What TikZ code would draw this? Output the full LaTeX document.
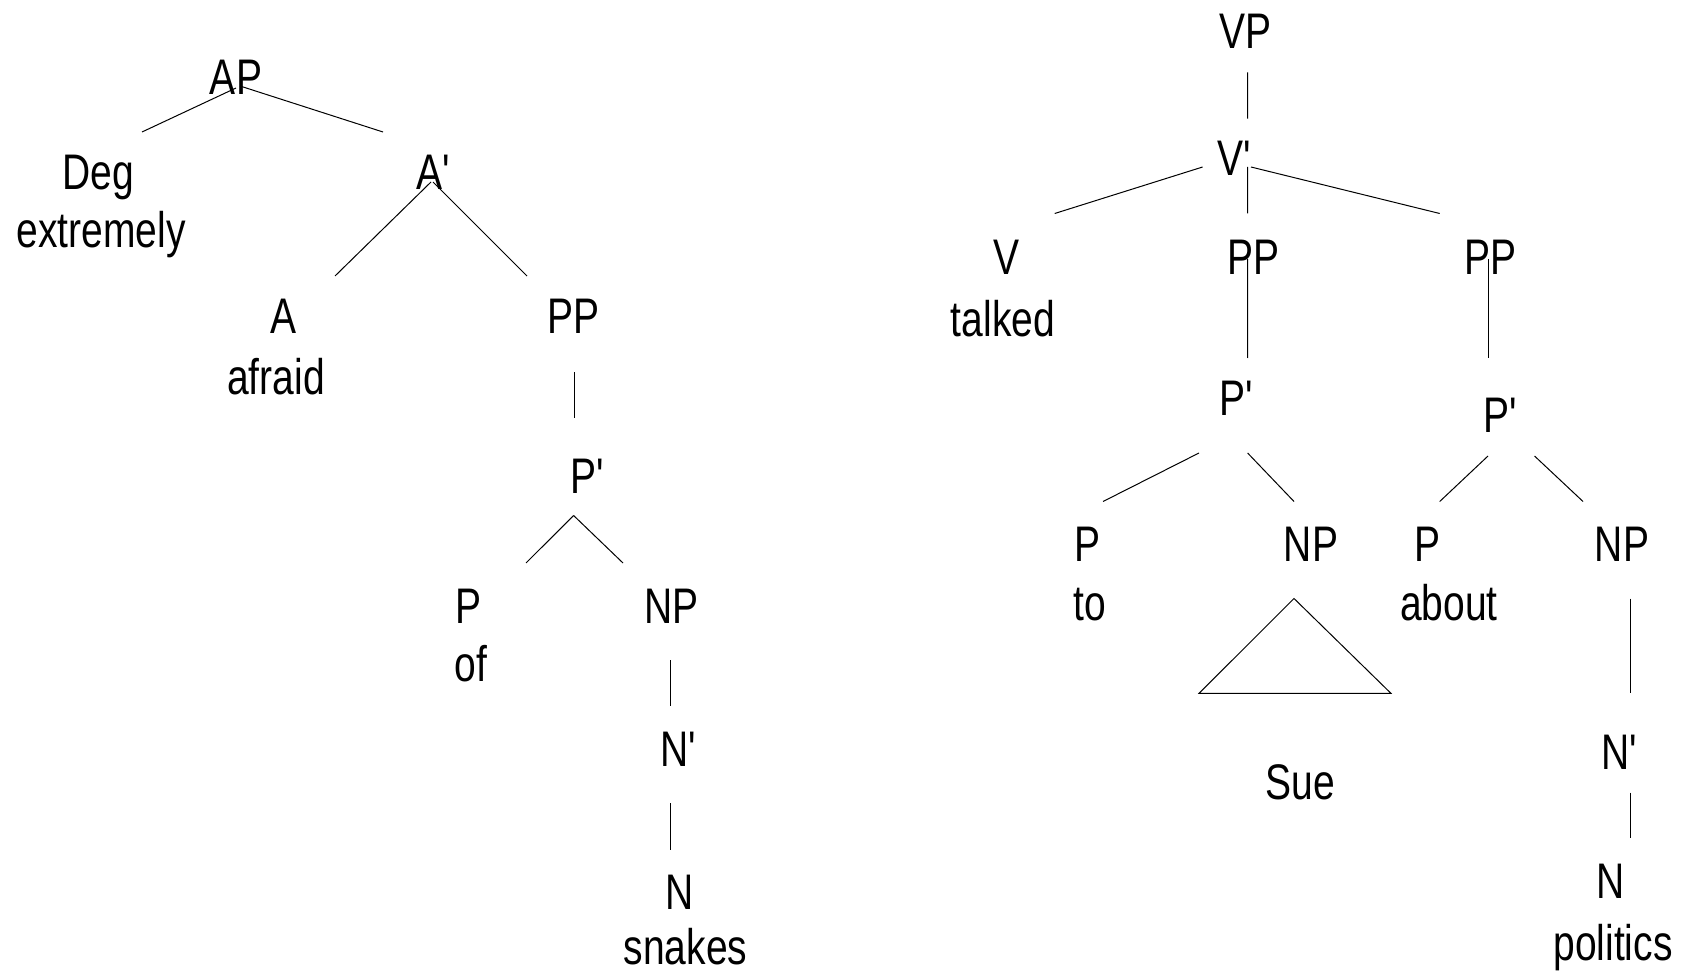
\documentclass[tikz,border=0pt]{standalone}
\usepackage{fontspec}
\setmainfont{Liberation Sans}[FakeStretch=0.78,Ligatures=TeXOff]
\usetikzlibrary{calc}
\begin{document}
\begin{tikzpicture}[x=1pt,y=-1pt,
  lbl/.style={anchor=base,inner sep=0pt,font=\fontsize{50}{60}\selectfont},
  edge/.style={line width=1pt}]
\useasboundingbox (0,0) rectangle (1691,973);
% ---------- left tree ----------
\node[lbl] (AP)  at (236,95) {AP};
\node[lbl] (Deg) at (98,190) {Deg};
\node[lbl] (ext) at (101,248) {extremely};
\node[lbl] (Ab)  at (433,190) {A'};
\node[lbl] (A)   at (283.5,334) {A};
\node[lbl] (afr) at (276,394) {afraid};
\node[lbl] (PPa) at (573.6,334) {PP};
\node[lbl] (Pba) at (587,493) {P'};
\node[lbl] (Pa)  at (468,623) {P};
\node[lbl] (of)  at (471,681.5) {of};
\node[lbl] (NPa) at (671.8,623) {NP};
\node[lbl] (Nba) at (678.5,766) {N'};
\node[lbl] (Na)  at (680,909) {N};
\node[lbl] (snk) at (685.5,964) {snakes};
\draw[edge] ($(AP.base)+(0,-7)$) -- ($(Deg.base)+(44,-58)$);
\draw[edge] ($(AP.base)+(4,-9)$) -- ($(Ab.base)+(-50,-58)$);
\draw[edge] ($(Ab.base)+(-2,-8)$) -- ($(A.base)+(51.5,-58)$);
\draw[edge] ($(Ab.base)+(0,-8)$) -- ($(PPa.base)+(-46.6,-58)$);
\draw[edge] ($(PPa.base)+(0.4,38)$) -- ($(Pba.base)+(-13,-75)$);
\draw[edge] ($(Pba.base)+(-13.4,22.5)$) -- ($(Pa.base)+(58,-60)$);
\draw[edge] ($(Pba.base)+(-13.4,22.5)$) -- ($(NPa.base)+(-48.8,-60)$);
\draw[edge] ($(NPa.base)+(-1,37)$) -- ($(Nba.base)+(-7.7,-60)$);
\draw[edge] ($(Nba.base)+(-7.7,37.4)$) -- ($(Na.base)+(-9.2,-59)$);
% ---------- right tree ----------
\node[lbl] (VP)  at (1245,48.5) {VP};
\node[lbl] (Vb)  at (1234,176) {V'};
\node[lbl] (V)   at (1006,275) {V};
\node[lbl] (tlk) at (1003,336.5) {talked};
\node[lbl] (PPb) at (1253,275) {PP};
\node[lbl] (PPc) at (1490,275) {PP};
\node[lbl] (Pbb) at (1236,415) {P'};
\node[lbl] (Pbc) at (1500.5,432) {P'};
\node[lbl] (Pto) at (1087,561) {P};
\node[lbl] (to)  at (1090,620) {to};
\node[lbl] (NPs) at (1311,561) {NP};
\node[lbl] (Sue) at (1300.5,799) {Sue};
\node[lbl] (Pab) at (1427.7,561) {P};
\node[lbl] (abt) at (1449,620) {about};
\node[lbl] (NPp) at (1622,561) {NP};
\node[lbl] (Nbp) at (1619,769) {N'};
\node[lbl] (Np)  at (1611,898) {N};
\node[lbl] (pol) at (1613,960) {politics};
\draw[edge] ($(VP.base)+(2.7,24)$) -- ($(Vb.base)+(13.6,-57.4)$);
\draw[edge] ($(Vb.base)+(-31.4,-9)$) -- ($(V.base)+(48.7,-61.5)$);
\draw[edge] ($(Vb.base)+(13.6,-9)$) -- ($(PPb.base)+(-5.3,-61.5)$);
\draw[edge] ($(Vb.base)+(17,-9)$) -- ($(PPc.base)+(-50.3,-61.5)$);
\draw[edge] ($(PPb.base)+(-5.3,-16)$) -- ($(Pbb.base)+(11.6,-57)$);
\draw[edge] ($(PPc.base)+(-2,-16)$) -- ($(Pbc.base)+(-12.5,-74)$);
\draw[edge] ($(Pbb.base)+(-37,38)$) -- ($(Pto.base)+(16,-59.5)$);
\draw[edge] ($(Pbb.base)+(11.6,38)$) -- ($(NPs.base)+(-17,-59.5)$);
\draw[edge] ($(Pbc.base)+(-12.5,24)$) -- ($(Pab.base)+(12,-59.5)$);
\draw[edge] ($(Pbc.base)+(34,24)$) -- ($(NPp.base)+(-39,-59.5)$);
\draw[edge] ($(NPs.base)+(-17,37.5)$) -- ($(NPs.base)+(-112,132.4)$) -- ($(NPs.base)+(80,132.4)$) -- cycle;
\draw[edge] ($(NPp.base)+(8.5,37.5)$) -- ($(Nbp.base)+(11.5,-75.6)$);
\draw[edge] ($(Nbp.base)+(11.5,23.6)$) -- ($(Np.base)+(19.5,-60)$);
\end{tikzpicture}
\end{document}
